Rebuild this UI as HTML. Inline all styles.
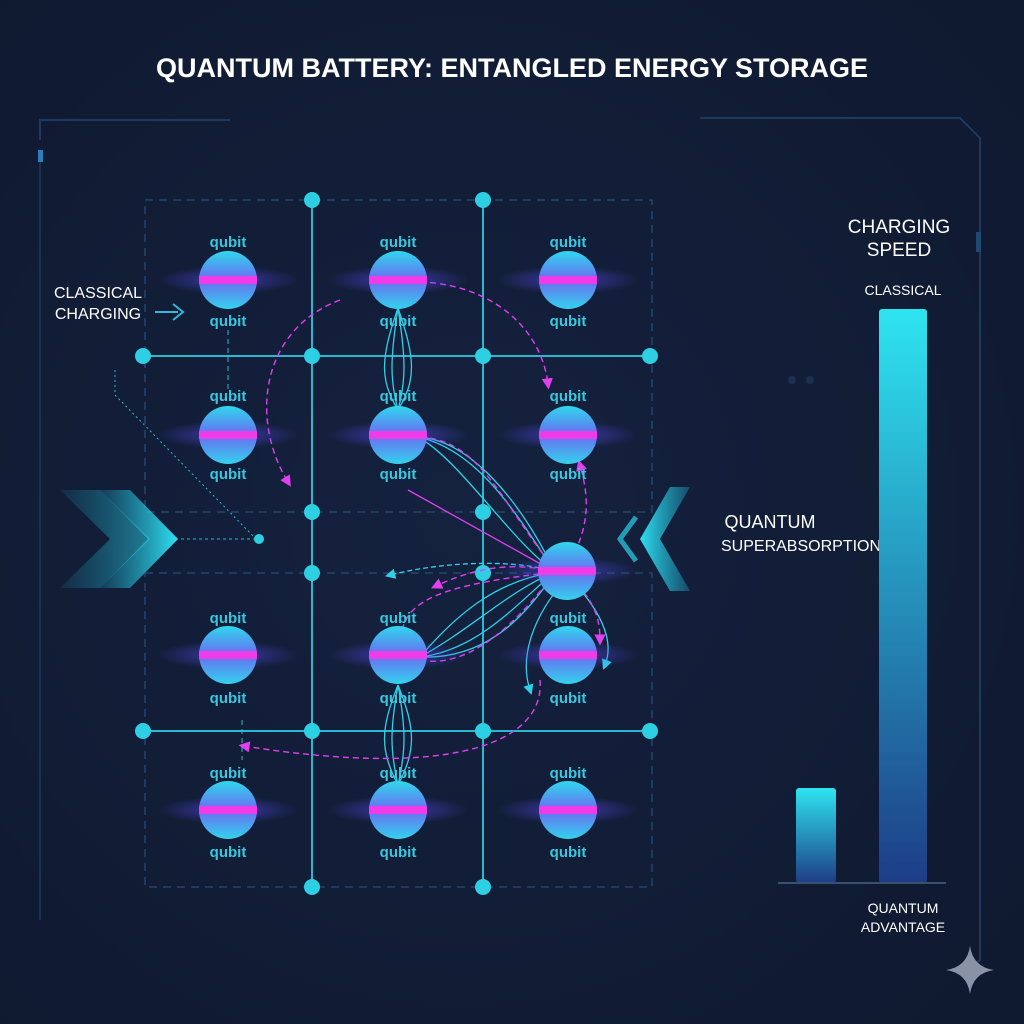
<!DOCTYPE html>
<html><head><style>
body{margin:0;background:#111c34;}
svg{display:block}
text{font-family:"Liberation Sans",sans-serif}
</style></head><body>
<svg width="1024" height="1024" viewBox="0 0 1024 1024" xmlns="http://www.w3.org/2000/svg">
<defs>
<radialGradient id="bg" cx="0.45" cy="0.5" r="0.7"><stop offset="0" stop-color="#15223f"/><stop offset="1" stop-color="#0f1930"/></radialGradient>
<linearGradient id="q" x1="0" y1="0" x2="0" y2="1"><stop offset="0" stop-color="#2fd8ee"/><stop offset="0.5" stop-color="#6a6cf0"/><stop offset="1" stop-color="#33d2ee"/></linearGradient>
<radialGradient id="glow"><stop offset="0" stop-color="#5a4cff" stop-opacity="0.6"/><stop offset="1" stop-color="#5a4cff" stop-opacity="0"/></radialGradient>
<linearGradient id="bar" x1="0" y1="0" x2="0" y2="1"><stop offset="0" stop-color="#2ee4f0"/><stop offset="1" stop-color="#1d3d86"/></linearGradient>
<linearGradient id="chev" x1="0" y1="0" x2="1" y2="0"><stop offset="0" stop-color="#1fb6d8" stop-opacity="0.2"/><stop offset="1" stop-color="#2fe0f0"/></linearGradient>
<linearGradient id="chevr" x1="1" y1="0" x2="0" y2="0"><stop offset="0" stop-color="#1fb6d8" stop-opacity="0.3"/><stop offset="1" stop-color="#2fe0f0"/></linearGradient>
<marker id="am" markerWidth="8" markerHeight="8" refX="4" refY="4" orient="auto"><path d="M0,0L8,4L0,8z" fill="#e040f0"/></marker>
<marker id="ac" markerWidth="8" markerHeight="8" refX="4" refY="4" orient="auto"><path d="M0,0L8,4L0,8z" fill="#2fd0e8"/></marker>
<g id="qb"><ellipse cx="0" cy="0" rx="70" ry="14" fill="url(#glow)"/><circle r="29" fill="url(#q)"/><rect x="-29" y="-4" width="58" height="8" fill="#f03ce8"/></g>
</defs>
<rect width="1024" height="1024" fill="url(#bg)"/>
<path d="M40,140 L40,120 L230,120 M700,118 L960,118 L980,138 L980,960 L960,975" fill="none" stroke="#1f3a5e" stroke-width="2"/>
<path d="M40,160 L40,920" stroke="#1a3150" stroke-width="2"/>
<rect x="38" y="150" width="5" height="12" fill="#2a7fb8"/>
<rect x="976" y="232" width="5" height="20" fill="#1f4a70"/>
<text x="512" y="77" text-anchor="middle" font-size="27" font-weight="bold" fill="#fff">QUANTUM BATTERY: ENTANGLED ENERGY STORAGE</text>
<rect x="145" y="200" width="507" height="312" fill="none" stroke="#24456a" stroke-width="1.5" stroke-dasharray="8,6"/>
<rect x="145" y="573" width="507" height="314" fill="none" stroke="#24456a" stroke-width="1.5" stroke-dasharray="8,6"/>
<g stroke="#2ab8d0" stroke-width="2">
<line x1="312" y1="200" x2="312" y2="887"/><line x1="483" y1="200" x2="483" y2="887"/>
<line x1="143" y1="356" x2="650" y2="356"/><line x1="143" y1="731" x2="650" y2="731"/>
</g>
<g fill="#2cd0e2">
<circle cx="312" cy="200" r="8"/><circle cx="483" cy="200" r="8"/>
<circle cx="143" cy="356" r="8"/><circle cx="312" cy="356" r="8"/><circle cx="483" cy="356" r="8"/><circle cx="650" cy="356" r="8"/>
<circle cx="312" cy="512" r="8"/><circle cx="483" cy="512" r="8"/>
<circle cx="312" cy="573" r="8"/><circle cx="483" cy="573" r="8"/>
<circle cx="143" cy="731" r="8"/><circle cx="312" cy="731" r="8"/><circle cx="483" cy="731" r="8"/><circle cx="650" cy="731" r="8"/>
<circle cx="312" cy="887" r="8"/><circle cx="483" cy="887" r="8"/>
<circle cx="259" cy="539" r="5"/>
</g>
<line x1="228" y1="330" x2="228" y2="390" stroke="#2ab8d0" stroke-dasharray="5,4"/>
<line x1="242" y1="720" x2="242" y2="760" stroke="#2ab8d0" stroke-dasharray="5,4"/>
<g fill="none" stroke="#2fd0e8" stroke-width="1.3">
<path d="M398,308 C380,360 380,380 398,410"/><path d="M398,308 C390,360 390,380 398,410"/><path d="M398,308 C406,360 406,380 398,410"/><path d="M398,308 C416,360 416,380 398,410"/>
<path d="M398,685 C380,730 380,750 398,785"/><path d="M398,685 C390,730 390,750 398,785"/><path d="M398,685 C406,730 406,750 398,785"/><path d="M398,685 C416,730 416,750 398,785"/>
<path d="M418,437 C480,450 520,520 555,572"/><path d="M418,437 C470,440 520,500 555,572"/><path d="M418,437 C460,460 510,540 555,572"/>
<path d="M420,657 C470,630 510,590 555,572"/><path d="M420,657 C480,650 520,600 555,572"/><path d="M420,657 C460,610 500,580 555,572"/><path d="M420,657 C490,660 530,610 555,572"/>
<path d="M555,572 C520,560 450,560 390,575" stroke-dasharray="5,3" marker-end="url(#ac)"/>
<path d="M565,580 C530,620 520,660 530,690" marker-end="url(#ac)"/>
<path d="M570,578 C600,610 615,640 605,665" marker-end="url(#ac)"/>
</g>
<g fill="none" stroke="#e040f0" stroke-width="1.4" stroke-dasharray="6,4">
<path d="M410,282 C480,280 540,320 548,384" marker-end="url(#am)"/>
<path d="M340,300 C260,330 250,420 288,482" marker-end="url(#am)"/>
<path d="M420,437 C480,440 500,500 555,570"/>
<path d="M565,570 C590,530 590,500 580,465" marker-end="url(#am)"/>
<path d="M555,572 C510,560 470,570 436,586" marker-end="url(#am)"/>
<path d="M402,630 C410,600 440,585 555,572"/>
<path d="M420,660 C470,670 520,620 555,572"/>
<path d="M570,578 C595,600 600,620 600,640" marker-end="url(#am)"/>
<path d="M540,680 C545,740 460,780 244,746" marker-end="url(#am)"/>
</g>
<line x1="408" y1="490" x2="555" y2="572" stroke="#e040f0" stroke-width="1.3"/>
<g>
<use href="#qb" x="228" y="280"/><use href="#qb" x="398" y="280"/><use href="#qb" x="568" y="280"/>
<use href="#qb" x="228" y="435"/><use href="#qb" x="398" y="435"/><use href="#qb" x="568" y="435"/>
<use href="#qb" x="567" y="571"/>
<use href="#qb" x="228" y="655"/><use href="#qb" x="398" y="655"/><use href="#qb" x="568" y="655"/>
<use href="#qb" x="228" y="810"/><use href="#qb" x="398" y="810"/><use href="#qb" x="568" y="810"/>
</g>
<g font-size="15" font-weight="bold" fill="#38c8e0" text-anchor="middle">
<text x="228" y="247">qubit</text><text x="398" y="247">qubit</text><text x="568" y="247">qubit</text>
<text x="228" y="326">qubit</text><text x="398" y="326">qubit</text><text x="568" y="326">qubit</text>
<text x="228" y="401">qubit</text><text x="398" y="401">qubit</text><text x="568" y="401">qubit</text>
<text x="228" y="479">qubit</text><text x="398" y="479">qubit</text><text x="568" y="479">qubit</text>
<text x="228" y="623">qubit</text><text x="398" y="623">qubit</text><text x="568" y="623">qubit</text>
<text x="228" y="703">qubit</text><text x="398" y="703">qubit</text><text x="568" y="703">qubit</text>
<text x="228" y="778">qubit</text><text x="398" y="778">qubit</text><text x="568" y="778">qubit</text>
<text x="228" y="857">qubit</text><text x="398" y="857">qubit</text><text x="568" y="857">qubit</text>
</g>
<text x="98" y="298" text-anchor="middle" font-size="16" fill="#fff">CLASSICAL</text>
<text x="98" y="319" text-anchor="middle" font-size="16" fill="#fff">CHARGING</text>
<path d="M155,312 L178,312 M173,304 L183,312 L173,320" fill="none" stroke="#2fb8d8" stroke-width="2"/>
<path d="M115,370 L115,395 L255,538" fill="none" stroke="#2ab8d0" stroke-dasharray="2,3"/>
<line x1="175" y1="539" x2="255" y2="539" stroke="#2ab8d0" stroke-dasharray="3,3"/>
<path d="M60,490 L100,490 L150,539 L100,588 L60,588 L110,539 Z" fill="url(#chev)" opacity="0.5"/>
<path d="M100,490 L130,490 L178,539 L130,588 L100,588 L148,539 Z" fill="url(#chev)"/>
<path d="M690,487 L670,487 L640,539 L670,591 L690,591 L660,539 Z" fill="url(#chevr)"/>
<path d="M636,517 L620,539 L636,561" fill="none" stroke="#2fd0e8" stroke-width="5" opacity="0.7"/>
<text x="770" y="528" text-anchor="middle" font-size="18" fill="#fff">QUANTUM</text>
<text x="721" y="551" font-size="16" fill="#fff">SUPERABSORPTION</text>
<text x="899" y="233" text-anchor="middle" font-size="19" fill="#fff">CHARGING</text>
<text x="899" y="256" text-anchor="middle" font-size="19" fill="#fff">SPEED</text>
<text x="903" y="295" text-anchor="middle" font-size="14" fill="#fff">CLASSICAL</text>
<rect x="879" y="309" width="48" height="574" rx="3" fill="url(#bar)"/>
<rect x="796" y="788" width="40" height="95" rx="3" fill="url(#bar)"/>
<line x1="778" y1="883" x2="946" y2="883" stroke="#3a5070" stroke-width="2"/>
<text x="903" y="913" text-anchor="middle" font-size="14" fill="#fff">QUANTUM</text>
<text x="903" y="932" text-anchor="middle" font-size="14" fill="#fff">ADVANTAGE</text>
<path d="M970,946 Q973,967 994,970 Q973,973 970,994 Q967,973 946,970 Q967,967 970,946Z" fill="#8a93a6"/>
<circle cx="792" cy="380" r="4" fill="#1d3050"/><circle cx="810" cy="380" r="4" fill="#1d3050"/>
</svg>
</body></html>
